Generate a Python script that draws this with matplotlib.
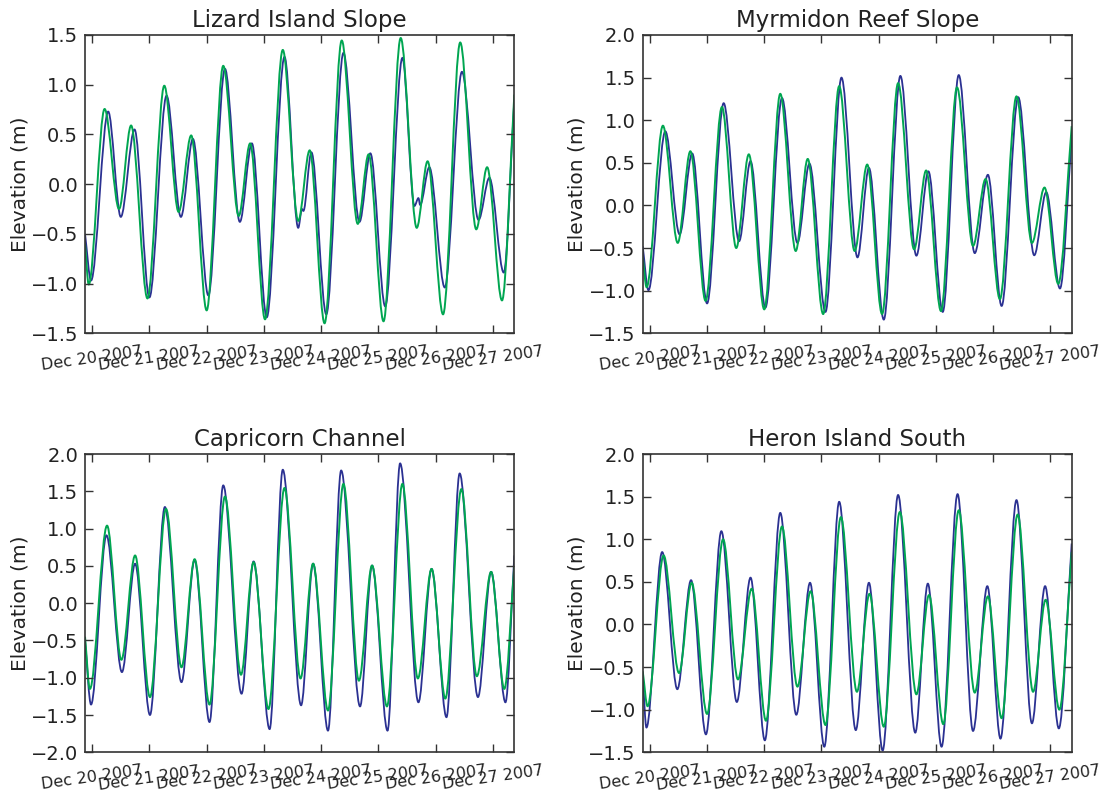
import datetime as dt
import matplotlib
matplotlib.use("Agg")
import matplotlib.pyplot as plt
import matplotlib.dates as mdates
import matplotlib.ticker as mticker
from matplotlib.path import Path
from matplotlib.patches import PathPatch

plt.rcParams["font.family"] = ["DejaVu Sans"]
plt.rcParams["axes.unicode_minus"] = True

# ---------------- data (times in days since 2007-12-20 00:00, elevations in m) -------------
titles = ["Lizard Island Slope", "Myrmidon Reef Slope", "Capricorn Channel", "Heron Island South"]
ylims = [(-1.5, 1.5), (-1.5, 2.0), (-2.0, 2.0), (-1.5, 2.0)]

liz_green_t = [-0.125, -0.06, 0.217, 0.47, 0.68, 0.966, 1.26, 1.51, 1.73, 2.0, 2.29, 2.56, 2.76, 3.02,
               3.33, 3.6, 3.8, 4.06, 4.36, 4.64, 4.83, 5.09, 5.39, 5.67, 5.86, 6.13, 6.43, 6.71, 6.90,
               7.16, 7.375]
liz_green_v = [-0.6, -1.01, 0.756, -0.25, 0.59, -1.15, 0.99, -0.28, 0.49, -1.27, 1.19, -0.32, 0.41,
               -1.36, 1.35, -0.37, 0.34, -1.40, 1.445, -0.40, 0.30, -1.38, 1.47, -0.44, 0.23, -1.31,
               1.425, -0.455, 0.17, -1.17, 0.9]
liz_blue_t = [-0.125, -0.02, 0.28, 0.50, 0.74, 1.0, 1.30, 1.55, 1.76, 2.03, 2.32, 2.58, 2.79, 3.05,
              3.36, 3.60, 3.665, 3.69, 3.83, 4.09, 4.39, 4.67, 4.86, 5.12, 5.42, 5.63, 5.70, 5.73,
              5.89, 6.16, 6.46, 6.75, 6.94, 7.19, 7.375]
liz_blue_v = [-0.5, -0.97, 0.73, -0.33, 0.55, -1.14, 0.89, -0.33, 0.455, -1.12, 1.16, -0.38, 0.41,
              -1.34, 1.28, -0.44, -0.25, -0.27, 0.32, -1.31, 1.32, -0.38, 0.31, -1.23, 1.27, -0.22,
              -0.14, -0.21, 0.17, -1.04, 1.13, -0.36, 0.064, -0.89, 0.85]

myr_green_t = [-0.125, -0.057, 0.228, 0.487, 0.708, 0.974, 1.26, 1.51, 1.73, 2.0, 2.28, 2.55, 2.76,
               3.03, 3.31, 3.58, 3.80, 4.06, 4.34, 4.62, 4.83, 5.09, 5.37, 5.65, 5.87, 6.12, 6.41,
               6.68, 6.90, 7.14, 7.375]
myr_green_v = [-0.6, -0.96, 0.936, -0.44, 0.636, -1.12, 1.155, -0.50, 0.60, -1.22, 1.31, -0.535,
               0.546, -1.275, 1.40, -0.535, 0.48, -1.275, 1.435, -0.515, 0.41, -1.24, 1.385, -0.475,
               0.31, -1.10, 1.28, -0.44, 0.21, -0.92, 0.93]
myr_blue_t = [-0.125, -0.025, 0.27, 0.52, 0.74, 1.0, 1.29, 1.56, 1.76, 2.02, 2.31, 2.58, 2.79, 3.07,
              3.35, 3.63, 3.83, 4.09, 4.38, 4.66, 4.87, 5.12, 5.40, 5.68, 5.91, 6.15, 6.44, 6.72,
              6.93, 7.17, 7.375]
myr_blue_v = [-0.48, -0.995, 0.87, -0.34, 0.61, -1.15, 1.2, -0.42, 0.52, -1.20, 1.26, -0.44, 0.49,
              -1.25, 1.50, -0.61, 0.44, -1.34, 1.52, -0.59, 0.40, -1.25, 1.53, -0.56, 0.36, -1.18,
              1.27, -0.585, 0.156, -0.975, 0.8]

cap_green_t = [-0.125, -0.04, 0.26, 0.51, 0.75, 1.01, 1.29, 1.56, 1.79, 2.05, 2.32, 2.60, 2.82,
               3.08, 3.36, 3.64, 3.86, 4.12, 4.39, 4.66, 4.89, 5.15, 5.42, 5.69, 5.93, 6.17, 6.45,
               6.72, 6.97, 7.20, 7.375]
cap_green_v = [-0.45, -1.15, 1.04, -0.76, 0.64, -1.26, 1.265, -0.86, 0.59, -1.36, 1.43, -0.96, 0.55,
               -1.42, 1.545, -1.01, 0.53, -1.44, 1.60, -1.04, 0.505, -1.385, 1.60, -1.01, 0.46,
               -1.28, 1.53, -0.98, 0.42, -1.15, 0.5]
cap_blue_t = [-0.125, -0.02, 0.25, 0.52, 0.75, 1.01, 1.27, 1.56, 1.79, 2.05, 2.29, 2.61, 2.82, 3.10,
              3.33, 3.65, 3.86, 4.12, 4.35, 4.68, 4.89, 5.16, 5.38, 5.70, 5.93, 6.19, 6.42, 6.74,
              6.97, 7.22, 7.375]
cap_blue_v = [-0.5, -1.36, 0.91, -0.925, 0.53, -1.50, 1.29, -1.06, 0.58, -1.595, 1.58, -1.215, 0.56,
              -1.69, 1.79, -1.37, 0.53, -1.71, 1.78, -1.385, 0.505, -1.71, 1.875, -1.33, 0.46,
              -1.53, 1.74, -1.26, 0.42, -1.33, 0.64]

her_green_t = [-0.125, -0.04, 0.24, 0.51, 0.73, 1.0, 1.28, 1.54, 1.78, 2.03, 2.31, 2.58, 2.81, 3.07,
               3.34, 3.62, 3.84, 4.09, 4.37, 4.66, 4.88, 5.13, 5.40, 5.68, 5.91, 6.15, 6.43, 6.70,
               6.92, 7.16, 7.375]
her_green_v = [-0.55, -0.96, 0.81, -0.57, 0.49, -1.05, 1.0, -0.645, 0.42, -1.13, 1.15, -0.73, 0.39,
               -1.18, 1.26, -0.79, 0.36, -1.20, 1.32, -0.82, 0.345, -1.17, 1.34, -0.80, 0.33,
               -1.10, 1.29, -0.79, 0.29, -1.0, 0.85]
her_blue_t = [-0.125, -0.06, 0.215, 0.48, 0.72, 0.98, 1.25, 1.52, 1.76, 2.01, 2.28, 2.56, 2.80,
              3.05, 3.31, 3.60, 3.83, 4.07, 4.34, 4.64, 4.86, 5.10, 5.38, 5.65, 5.90, 6.13, 6.41,
              6.68, 6.91, 7.15, 7.375]
her_blue_v = [-0.6, -1.21, 0.85, -0.76, 0.52, -1.29, 1.095, -0.91, 0.55, -1.36, 1.31, -1.06, 0.49,
              -1.435, 1.44, -1.24, 0.49, -1.48, 1.52, -1.27, 0.48, -1.435, 1.53, -1.25, 0.45,
              -1.34, 1.46, -1.16, 0.45, -1.22, 0.95]

series = [
    (liz_blue_t, liz_blue_v, liz_green_t, liz_green_v),
    (myr_blue_t, myr_blue_v, myr_green_t, myr_green_v),
    (cap_blue_t, cap_blue_v, cap_green_t, cap_green_v),
    (her_blue_t, her_blue_v, her_green_t, her_green_v),
]

x_start_days, x_end_days = -0.125, 7.375
BLUE = "#2b3192"
GREEN = "#00a651"
TXT = "#222222"

base = mdates.date2num(dt.datetime(2007, 12, 20))


def tide_path(t, v):
    """Smooth curve through turning points (horizontal tangents at interior points)."""
    x = [base + ti for ti in t]
    verts = [(x[0], v[0])]
    codes = [Path.MOVETO]
    n = len(x)
    for i in range(n - 1):
        d = x[i + 1] - x[i]
        if i == 0:
            c1 = (x[0] + d / 3, v[0] + (v[1] - v[0]) / 3)
        else:
            c1 = (x[i] + d / 3, v[i])
        if i + 1 == n - 1:
            c2 = (x[i + 1] - d / 3, v[i + 1] - (v[i + 1] - v[i]) / 3)
        else:
            c2 = (x[i + 1] - d / 3, v[i + 1])
        verts += [c1, c2, (x[i + 1], v[i + 1])]
        codes += [Path.CURVE4] * 3
    return Path(verts, codes)


fig = plt.figure(figsize=(11.07, 7.95), dpi=100)
rects = [
    (0.0768, 0.5808, 0.3878, 0.3752),
    (0.5806, 0.5808, 0.3875, 0.3752),
    (0.0768, 0.0537, 0.3878, 0.3752),
    (0.5806, 0.0537, 0.3875, 0.3752),
]

for k in range(4):
    ax = fig.add_axes(rects[k])
    bt, bv, gt, gv = series[k]
    ax.add_patch(PathPatch(tide_path(bt, bv), fill=False, edgecolor=BLUE, lw=1.3,
                           joinstyle="round", capstyle="butt"))
    ax.add_patch(PathPatch(tide_path(gt, gv), fill=False, edgecolor=GREEN, lw=1.4,
                           joinstyle="round", capstyle="butt"))
    ax.set_xlim(base + x_start_days, base + x_end_days)
    ax.set_ylim(*ylims[k])
    ax.xaxis.set_major_locator(mdates.DayLocator())
    ax.xaxis.set_major_formatter(mdates.DateFormatter("%b %d %Y"))
    lo, hi = ylims[k]
    ticks = []
    y = lo
    while y <= hi + 1e-9:
        ticks.append(round(y, 2))
        y += 0.5
    ax.set_yticks(ticks)
    ax.yaxis.set_major_formatter(mticker.FuncFormatter(
        lambda val, pos: ("%.1f" % val).replace("-", "\u2212")))
    ax.tick_params(axis="both", which="major", direction="in", top=True, right=True,
                   length=6, width=1.0, color="#333333")
    ax.tick_params(axis="y", labelsize=14, labelcolor=TXT, pad=5)
    ax.tick_params(axis="x", labelsize=11.5, labelcolor=TXT, pad=8)
    for lab in ax.get_xticklabels():
        lab.set_rotation(8)
        lab.set_ha("center")
    for sp in ax.spines.values():
        sp.set_color("#333333")
        sp.set_linewidth(1.2)
    ax.set_ylabel("Elevation (m)", fontsize=14.5, color=TXT, labelpad=1)
    ax.set_title(titles[k], fontsize=16.5, color=TXT, pad=6)

fig.savefig("out.png", dpi=100)
